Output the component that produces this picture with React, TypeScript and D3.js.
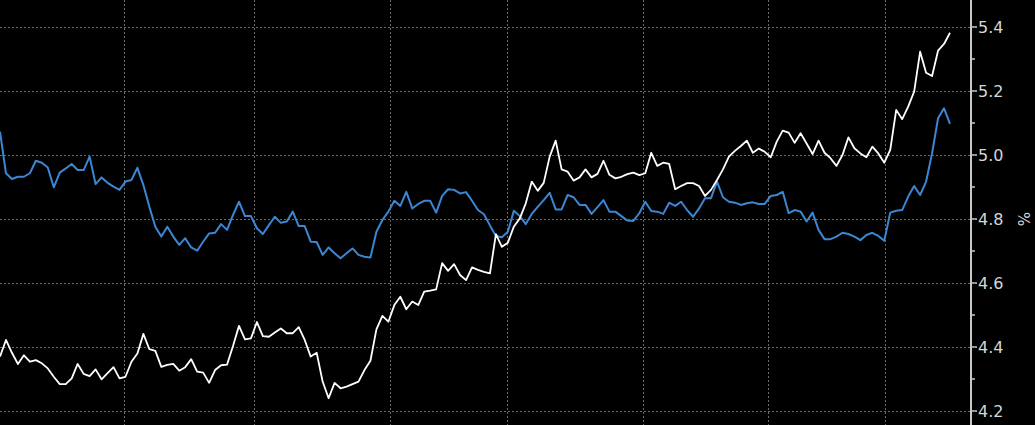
import React, { useEffect, useRef } from 'react';
import * as d3 from 'd3';

// Daily yields (%), oldest first
const whiteSeries: number[] = [
  4.370, 4.422, 4.382, 4.347, 4.374, 4.354, 4.359, 4.349, 4.333, 4.307, 4.284, 4.284, 4.302, 4.347, 4.316, 4.309, 4.330, 4.299, 4.318, 4.337, 4.302,
  4.307, 4.354, 4.380, 4.441, 4.393, 4.388, 4.338, 4.344, 4.347, 4.326, 4.337, 4.362, 4.323, 4.320, 4.288, 4.328, 4.343, 4.345, 4.403, 4.466,
  4.424, 4.427, 4.478, 4.434, 4.432, 4.445, 4.458, 4.443, 4.443, 4.462, 4.422, 4.370, 4.382, 4.292, 4.240, 4.288, 4.271, 4.276, 4.284, 4.292,
  4.328, 4.357, 4.455, 4.497, 4.479, 4.531, 4.557, 4.518, 4.542, 4.531, 4.573, 4.576, 4.580, 4.662, 4.638, 4.659, 4.625, 4.609, 4.649, 4.641,
  4.635, 4.630, 4.753, 4.713, 4.726, 4.776, 4.802, 4.849, 4.917, 4.888, 4.913, 4.995, 5.045, 4.955, 4.948, 4.920, 4.930, 4.955, 4.930, 4.941,
  4.982, 4.938, 4.927, 4.932, 4.940, 4.945, 4.937, 4.943, 5.007, 4.966, 4.976, 4.972, 4.893, 4.903, 4.912, 4.912, 4.903, 4.872, 4.891, 4.922,
  4.955, 4.995, 5.013, 5.028, 5.045, 5.007, 5.020, 5.010, 4.993, 5.042, 5.076, 5.070, 5.038, 5.068, 5.036, 5.003, 5.045, 5.007, 4.990, 4.966,
  5.000, 5.055, 5.021, 5.005, 4.993, 5.026, 5.005, 4.976, 5.016, 5.141, 5.112, 5.151, 5.198, 5.323, 5.257, 5.247, 5.326, 5.347, 5.382,
];

const blueSeries: number[] = [
  5.073, 4.943, 4.925, 4.932, 4.932, 4.943, 4.982, 4.976, 4.961, 4.899, 4.945, 4.958, 4.972, 4.953, 4.953, 4.995, 4.909, 4.930, 4.913, 4.901, 4.891,
  4.917, 4.922, 4.960, 4.906, 4.838, 4.776, 4.745, 4.776, 4.745, 4.719, 4.740, 4.711, 4.701, 4.729, 4.755, 4.757, 4.784, 4.766, 4.813, 4.854,
  4.809, 4.809, 4.771, 4.753, 4.781, 4.807, 4.788, 4.792, 4.823, 4.778, 4.778, 4.729, 4.728, 4.688, 4.711, 4.693, 4.677, 4.693, 4.708, 4.688,
  4.682, 4.680, 4.760, 4.797, 4.823, 4.857, 4.841, 4.885, 4.833, 4.847, 4.857, 4.857, 4.820, 4.872, 4.893, 4.891, 4.880, 4.884, 4.857, 4.828,
  4.815, 4.780, 4.747, 4.743, 4.760, 4.826, 4.809, 4.784, 4.816, 4.838, 4.859, 4.882, 4.830, 4.830, 4.875, 4.868, 4.844, 4.844, 4.816, 4.837,
  4.859, 4.823, 4.823, 4.809, 4.795, 4.794, 4.818, 4.854, 4.825, 4.823, 4.816, 4.851, 4.841, 4.854, 4.828, 4.807, 4.833, 4.865, 4.865, 4.917,
  4.868, 4.854, 4.851, 4.844, 4.849, 4.852, 4.847, 4.847, 4.872, 4.875, 4.885, 4.818, 4.828, 4.823, 4.792, 4.820, 4.766, 4.737, 4.737, 4.745,
  4.757, 4.753, 4.745, 4.734, 4.750, 4.757, 4.747, 4.732, 4.820, 4.826, 4.828, 4.870, 4.903, 4.875, 4.917, 5.005, 5.115, 5.146, 5.097,
];

// month boundaries, as positions on the day index (unlabelled vertical gridlines)
const monthBreaks: number[] = [20.8, 42.5, 65.3, 84.9, 107.7, 128.6, 148.2];

const yTicks: number[] = [4.2, 4.4, 4.6, 4.8, 5.0, 5.2, 5.4];
const yMinorTicks: number[] = [4.3, 4.5, 4.7, 4.9, 5.1, 5.3];
const unitLabel = '%';

const WIDTH = 1035;
const HEIGHT = 425;

const App: React.FC = () => {
  const svgRef = useRef<SVGSVGElement>(null);

  useEffect(() => {
    if (!svgRef.current) return;
    document.body.style.margin = '0';
    document.body.style.background = '#000';

    const svg = d3.select(svgRef.current);
    svg.selectAll('*').remove();

    const axisX = 971;
    const n = whiteSeries.length;

    const x = d3.scaleLinear().domain([0, n - 1]).range([0, 950]);
    const y = d3.scaleLinear().domain([4.2, 5.4]).range([411, 27]);

    svg.append('rect')
      .attr('width', WIDTH)
      .attr('height', HEIGHT)
      .attr('fill', '#000');

    // Grid
    const grid = svg.append('g')
      .attr('stroke', '#6a6a6a')
      .attr('stroke-width', 1)
      .attr('stroke-dasharray', '2,2');

    grid.selectAll('.hgrid')
      .data(yTicks)
      .enter()
      .append('line')
      .attr('x1', 0)
      .attr('x2', axisX)
      .attr('y1', d => Math.round(y(d)) + 0.5)
      .attr('y2', d => Math.round(y(d)) + 0.5);

    grid.selectAll('.vgrid')
      .data(monthBreaks)
      .enter()
      .append('line')
      .attr('x1', d => Math.round(x(d)) + 0.5)
      .attr('x2', d => Math.round(x(d)) + 0.5)
      .attr('y1', 0)
      .attr('y2', HEIGHT);

    // Lines
    const line = d3.line<number>()
      .x((_, i) => x(i))
      .y(d => y(d));

    svg.append('path')
      .datum(blueSeries)
      .attr('fill', 'none')
      .attr('stroke', '#3b87d4')
      .attr('stroke-width', 2)
      .attr('stroke-linejoin', 'round')
      .attr('d', line);

    svg.append('path')
      .datum(whiteSeries)
      .attr('fill', 'none')
      .attr('stroke', '#ffffff')
      .attr('stroke-width', 1.8)
      .attr('stroke-linejoin', 'round')
      .attr('d', line);

    // Right axis
    const axisG = svg.append('g')
      .attr('transform', `translate(${axisX},0)`);

    axisG.append('line')
      .attr('x1', 0).attr('x2', 0)
      .attr('y1', 0).attr('y2', HEIGHT)
      .attr('stroke', '#c8c8c8')
      .attr('stroke-width', 2);

    axisG.selectAll('.major')
      .data(yTicks)
      .enter()
      .append('line')
      .attr('x1', 0).attr('x2', 6)
      .attr('y1', d => y(d)).attr('y2', d => y(d))
      .attr('stroke', '#c8c8c8')
      .attr('stroke-width', 1.5);

    axisG.selectAll('.minor')
      .data(yMinorTicks)
      .enter()
      .append('line')
      .attr('x1', 0).attr('x2', 4)
      .attr('y1', d => y(d)).attr('y2', d => y(d))
      .attr('stroke', '#c8c8c8')
      .attr('stroke-width', 1.5);

    axisG.selectAll('.label')
      .data(yTicks)
      .enter()
      .append('text')
      .attr('x', 7)
      .attr('y', d => y(d))
      .attr('dy', '0.36em')
      .attr('fill', '#d6d6d6')
      .style('font-family', '"DejaVu Sans", sans-serif')
      .style('font-size', '16px')
      .text(d => d.toFixed(1));

    svg.append('text')
      .attr('transform', `translate(1018,${y(4.8)}) rotate(90)`)
      .attr('text-anchor', 'middle')
      .attr('fill', '#d6d6d6')
      .style('font-family', '"DejaVu Sans", sans-serif')
      .style('font-size', '15px')
      .text(unitLabel);
  }, []);

  return (
    <svg
      ref={svgRef}
      width={WIDTH}
      height={HEIGHT}
      style={{ position: 'absolute', left: 0, top: 0, display: 'block' }}
    />
  );
};

export default App;
